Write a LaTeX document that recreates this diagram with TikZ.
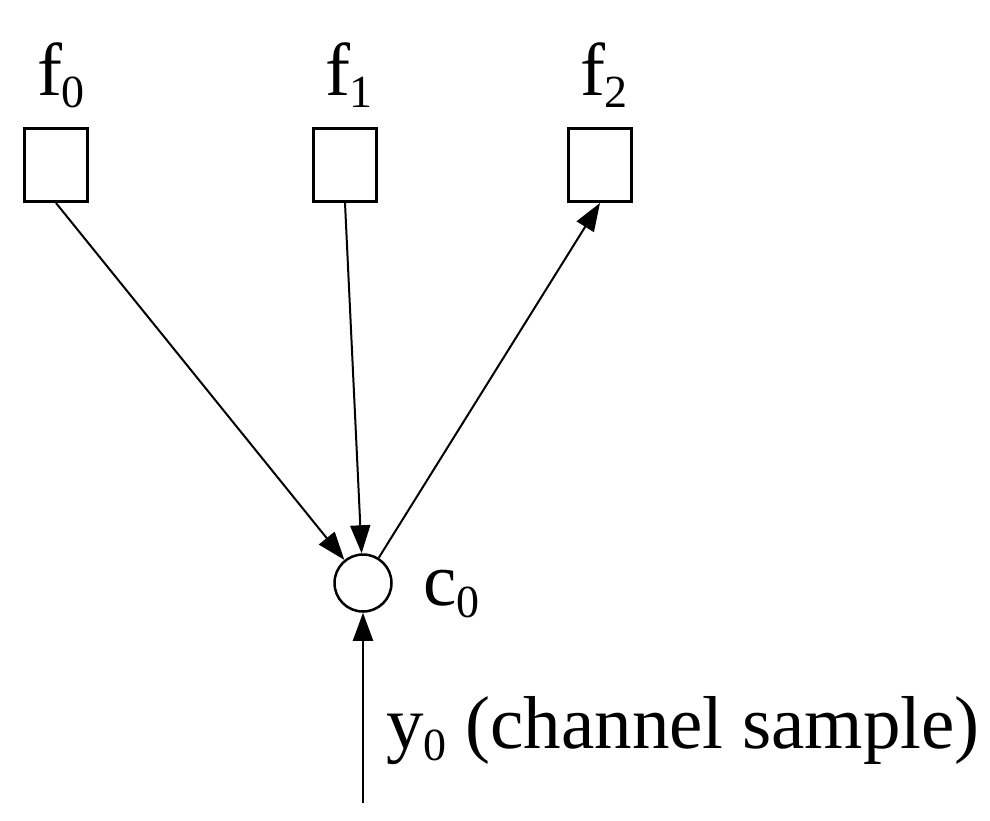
\documentclass[tikz,border=0pt]{standalone}
\usepackage{fontspec}
\setmainfont{Liberation Serif}
\usepackage{tikz}
\usetikzlibrary{arrows.meta}
\usetikzlibrary{positioning}

\newcommand{\lowsub}[1]{\raisebox{-12pt}{\fontsize{46}{46}\selectfont #1}}

\begin{document}
\begin{tikzpicture}[x=1pt,y=-1pt,
    varbox/.style={draw,line width=3pt,minimum width=63pt,minimum height=73pt,inner sep=0pt},
    chknode/.style={draw,circle,line width=2.5pt,minimum size=57pt,inner sep=0pt},
    lbl/.style={font=\fontsize{75}{80}\selectfont,inner sep=0pt},
    arr/.style={line width=2pt,-{Triangle[length=28pt,width=20pt]}}]
    \useasboundingbox (0,0) rectangle (990,820);
    %
    \node[varbox] (f0) at (56,165) {};
    \node[varbox] (f1) at (345,165) {};
    \node[varbox] (f2) at (600,165) {};
    \node[chknode] (c0) at (363,583) {};
    \coordinate (yin) at (363,803);
    %
    \node[lbl,anchor=base] (lf0) at (61,95) {f\lowsub{0}};
    \node[lbl,anchor=base] (lf1) at (349,95) {f\lowsub{1}};
    \node[lbl,anchor=base] (lf2) at (604,95) {f\lowsub{2}};
    \node[lbl,anchor=base west] (lc0) at (423,605) {c\lowsub{0}};
    \node[lbl,anchor=base west] (ly0) at (386,748) {y\lowsub{0} (channel sample)};
    %
    \draw[arr] (f0.south) -- (c0);
    \draw[arr] (f1.south) -- (c0);
    \draw[arr] (c0) -- (f2.south);
    \draw[arr] (yin) -- (c0);
  \end{tikzpicture}
\end{document}
